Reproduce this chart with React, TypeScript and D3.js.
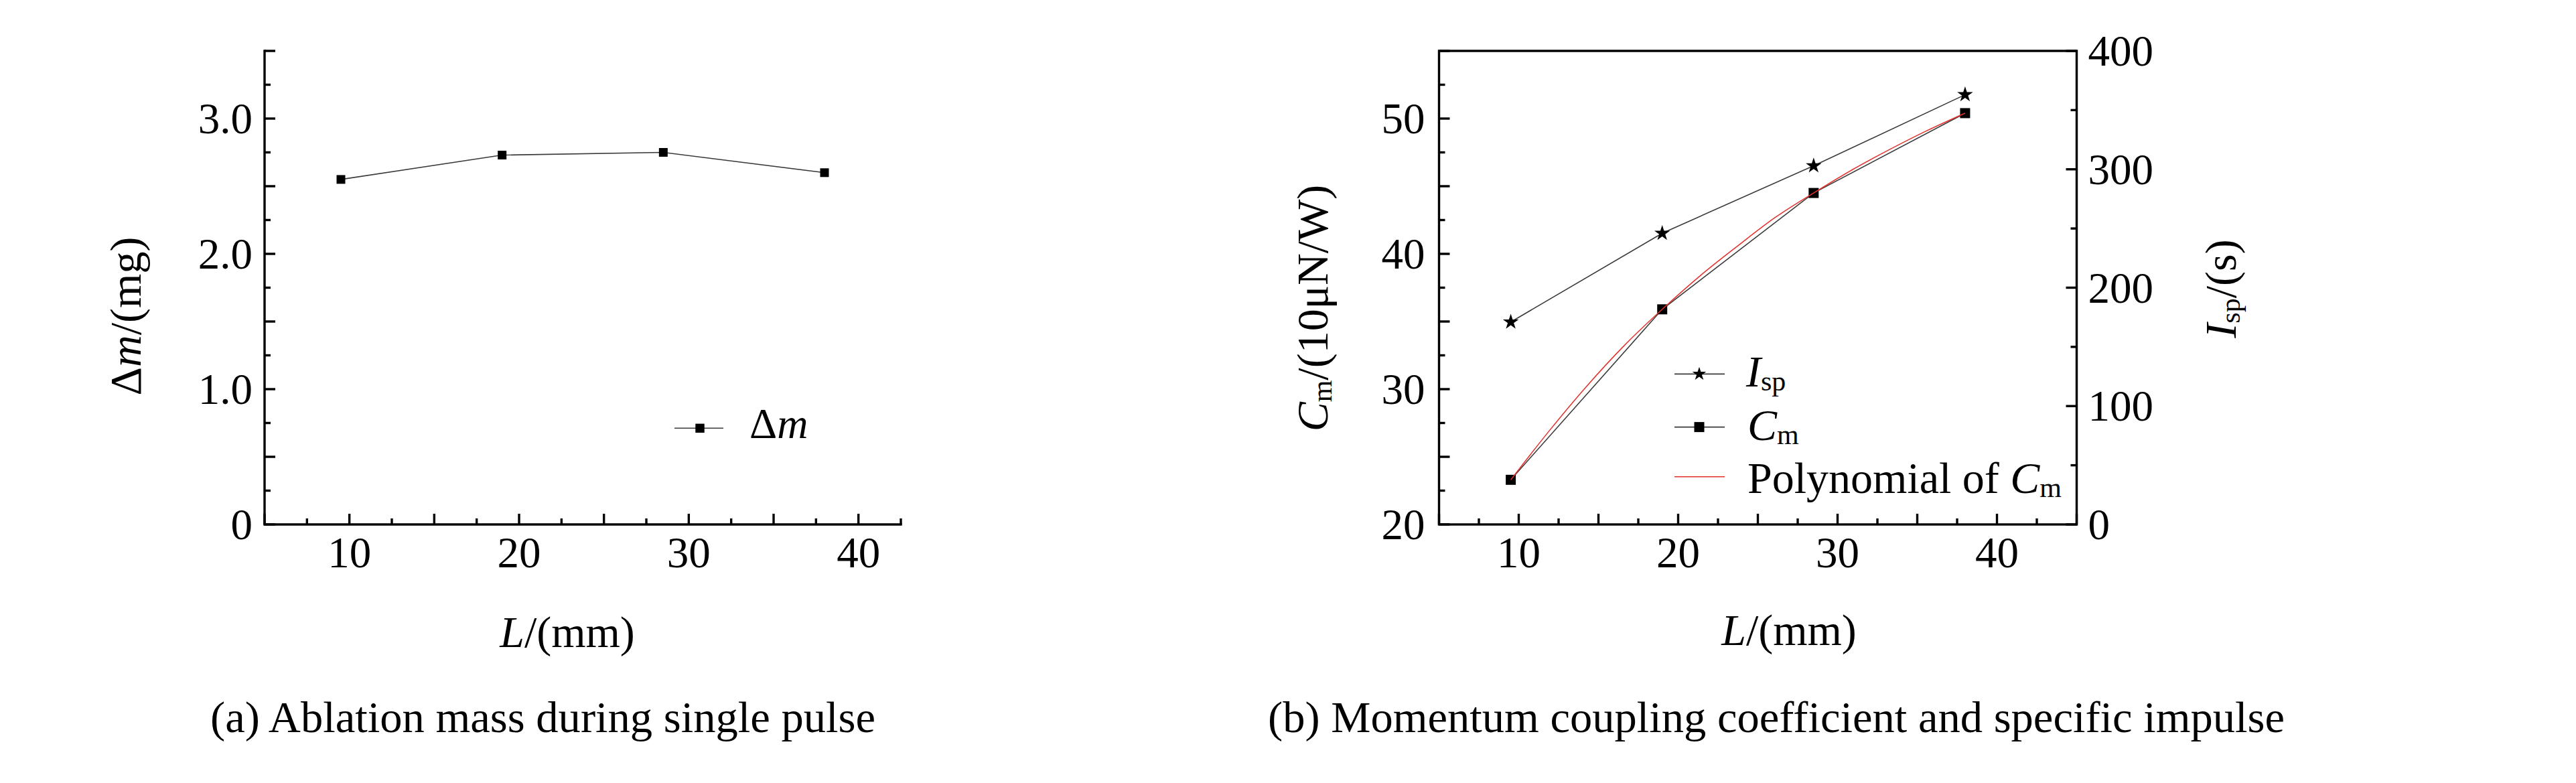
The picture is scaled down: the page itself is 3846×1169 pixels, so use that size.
import React from "react";
import * as d3 from "d3";

// ---------- data ----------
const lengthsMM = [9.5, 19, 28.5, 38];
const ablationMass = [2.55, 2.73, 2.75, 2.6];
const cmValues = [23.3, 35.9, 44.5, 50.4];
const ispValues = [171, 246, 303, 363];
const cmFitL = [9.5, 11.9, 14.25, 16.6, 19, 21.4, 23.75, 26.1, 28.5, 30.9, 33.25, 35.6, 38];
const cmFitValues = [23.3, 26.9, 30.2, 33.2, 35.9, 38.4, 40.6, 42.7, 44.5, 46.2, 47.7, 49.1, 50.4];

const xTickLabels = [10, 20, 30, 40];
const yTickLabelsA = [0, 1, 2, 3];
const yTickTextA = ["0", "1.0", "2.0", "3.0"];
const yTickLabelsBL = [20, 30, 40, 50];
const yTickLabelsBR = [0, 100, 200, 300, 400];

const captionA = "(a) Ablation mass during single pulse";
const captionB = "(b) Momentum coupling coefficient and specific impulse";

const FONT = "'Liberation Serif', 'Times New Roman', serif";
const AX = 3.4;
const LONG = 16;
const SHORT = 9;
const LINE_COLOR = "#3a3a3a";
const FIT_COLOR = "#e3302c";

function isMult(v: number, step: number) {
  return Math.abs(v / step - Math.round(v / step)) < 1e-6;
}

export default function App() {
  // panel (a)
  const xA = d3.scaleLinear().domain([5, 42.5]).range([395, 1345]);
  const yA = d3.scaleLinear().domain([0, 3.5]).range([783, 76]);
  // panel (b)
  const xB = d3.scaleLinear().domain([5, 45]).range([2148.5, 3100.5]);
  const yBL = d3.scaleLinear().domain([20, 55]).range([783, 76]);
  const yBR = d3.scaleLinear().domain([0, 400]).range([783, 76]);

  const sqA = d3.symbol(d3.symbolSquare, 169)() as string;
  const sqLegA = d3.symbol(d3.symbolSquare, 180)() as string;
  const sqB = d3.symbol(d3.symbolSquare, 225)() as string;
  const sqLegB = d3.symbol(d3.symbolSquare, 225)() as string;
  const starB = d3.symbol(d3.symbolStar, 170)() as string;
  const starLegB = d3.symbol(d3.symbolStar, 130)() as string;

  const lineA = d3
    .line<number>()
    .x((_, i) => xA(lengthsMM[i]))
    .y((d) => yA(d))(ablationMass) as string;
  const lineCm = d3
    .line<number>()
    .x((_, i) => xB(lengthsMM[i]))
    .y((d) => yBL(d))(cmValues) as string;
  const lineIsp = d3
    .line<number>()
    .x((_, i) => xB(lengthsMM[i]))
    .y((d) => yBR(d))(ispValues) as string;
  const lineFit = d3
    .line<number>()
    .curve(d3.curveMonotoneX)
    .x((_, i) => xB(cmFitL[i]))
    .y((d) => yBL(d))(cmFitValues) as string;

  const xTicksA = d3.range(5, 42.5 + 1e-9, 2.5);
  const yTicksA = d3.range(0, 3.5 + 1e-9, 0.25);
  const xTicksB = d3.range(5, 45 + 1e-9, 2.5);
  const yTicksBL = d3.range(20, 55 + 1e-9, 2.5);
  const yTicksBR = d3.range(0, 400 + 1e-9, 50);

  const [aL, aR] = xA.range();
  const [bL, bR] = xB.range();
  const bottom = 783;
  const top = 76;

  return (
    <svg
      width={3846}
      height={1169}
      style={{ position: "absolute", left: 0, top: 0, background: "#fff", display: "block" }}
      fontFamily={FONT}
    >
      <rect x={0} y={0} width={3846} height={1169} fill="#fff" />

      {/* ================= Panel (a) ================= */}
      <g stroke="#000" strokeWidth={AX}>
        {xTicksA.map((v) => (
          <line key={"xa" + v} x1={xA(v)} x2={xA(v)} y1={bottom} y2={bottom - (isMult(v, 5) ? LONG : SHORT)} />
        ))}
        {yTicksA.map((v) => (
          <line key={"ya" + v} x1={aL} x2={aL + (isMult(v, 0.5) ? LONG : SHORT)} y1={yA(v)} y2={yA(v)} />
        ))}
        <path d={`M${aL},${top}V${bottom}H${aR}`} fill="none" strokeLinecap="square" />
      </g>
      <g fontSize={65} fill="#000">
        {yTickLabelsA.map((v, i) => (
          <text key={"yla" + v} x={aL - 18} y={yA(v) + 22} textAnchor="end">
            {yTickTextA[i]}
          </text>
        ))}
        {xTickLabels.map((v) => (
          <text key={"xla" + v} x={xA(v)} y={847} textAnchor="middle">
            {v}
          </text>
        ))}
      </g>
      <path d={lineA} fill="none" stroke={LINE_COLOR} strokeWidth={1.6} />
      {ablationMass.map((v, i) => (
        <path key={"pa" + i} d={sqA} transform={`translate(${xA(lengthsMM[i])},${yA(v)})`} fill="#000" />
      ))}
      {/* legend (a) */}
      <line x1={1007} x2={1080} y1={639.3} y2={639.3} stroke={LINE_COLOR} strokeWidth={1.6} />
      <path d={sqLegA} transform="translate(1045,639.3)" fill="#000" />
      <text x={1119} y={654} fontSize={64}>
        Δ<tspan fontStyle="italic">m</tspan>
      </text>
      {/* titles (a) */}
      <text x={847} y={966} fontSize={66} textAnchor="middle">
        <tspan fontStyle="italic">L</tspan>/(mm)
      </text>
      <text transform="translate(210,472) rotate(-90)" fontSize={66} textAnchor="middle">
        Δ<tspan fontStyle="italic">m</tspan>/(mg)
      </text>
      <text x={810.5} y={1093} fontSize={65} textAnchor="middle" textLength={993} lengthAdjust="spacingAndGlyphs">
        {captionA}
      </text>

      {/* ================= Panel (b) ================= */}
      <g stroke="#000" strokeWidth={AX}>
        {xTicksB.map((v) => (
          <line key={"xb" + v} x1={xB(v)} x2={xB(v)} y1={bottom} y2={bottom - (isMult(v, 5) ? LONG : SHORT)} />
        ))}
        {yTicksBL.map((v) => (
          <line key={"ybl" + v} x1={bL} x2={bL + (isMult(v, 5) ? LONG : SHORT)} y1={yBL(v)} y2={yBL(v)} />
        ))}
        {yTicksBR.map((v) => (
          <line key={"ybr" + v} x1={bR} x2={bR - (isMult(v, 100) ? LONG : SHORT)} y1={yBR(v)} y2={yBR(v)} />
        ))}
        <rect x={bL} y={top} width={bR - bL} height={bottom - top} fill="none" />
      </g>
      <g fontSize={65} fill="#000">
        {yTickLabelsBL.map((v) => (
          <text key={"ylbl" + v} x={bL - 21} y={yBL(v) + 22} textAnchor="end">
            {v}
          </text>
        ))}
        {yTickLabelsBR.map((v) => (
          <text key={"ylbr" + v} x={bR + 17} y={yBR(v) + 22} textAnchor="start">
            {v}
          </text>
        ))}
        {xTickLabels.map((v) => (
          <text key={"xlb" + v} x={xB(v)} y={847} textAnchor="middle">
            {v}
          </text>
        ))}
      </g>
      <path d={lineIsp} fill="none" stroke={LINE_COLOR} strokeWidth={1.6} />
      <path d={lineCm} fill="none" stroke={LINE_COLOR} strokeWidth={1.6} />
      {ispValues.map((v, i) => (
        <path key={"pi" + i} d={starB} transform={`translate(${xB(lengthsMM[i])},${yBR(v)})`} fill="#000" />
      ))}
      {cmValues.map((v, i) => (
        <path key={"pc" + i} d={sqB} transform={`translate(${xB(lengthsMM[i])},${yBL(v)})`} fill="#000" />
      ))}
      <path d={lineFit} fill="none" stroke={FIT_COLOR} strokeWidth={1.5} />

      {/* legend (b) */}
      <line x1={2500} x2={2575} y1={558.4} y2={558.4} stroke={LINE_COLOR} strokeWidth={1.6} />
      <path d={starLegB} transform="translate(2537,558.4)" fill="#000" />
      <text x={2607} y={577} fontSize={66}>
        <tspan fontStyle="italic">I</tspan>
        <tspan fontSize={42} dy={6}>sp</tspan>
      </text>
      <line x1={2500} x2={2575} y1={637.6} y2={637.6} stroke={LINE_COLOR} strokeWidth={1.6} />
      <path d={sqLegB} transform="translate(2537,637.6)" fill="#000" />
      <text x={2609} y={657} fontSize={66}>
        <tspan fontStyle="italic">C</tspan>
        <tspan fontSize={42} dy={6}>m</tspan>
      </text>
      <line x1={2500} x2={2575} y1={711.8} y2={711.8} stroke={FIT_COLOR} strokeWidth={1.5} />
      <text x={2609} y={736} fontSize={66}>
        Polynomial of <tspan fontStyle="italic">C</tspan>
        <tspan fontSize={42} dy={6}>m</tspan>
      </text>

      {/* titles (b) */}
      <text x={2671} y={963} fontSize={66} textAnchor="middle">
        <tspan fontStyle="italic">L</tspan>/(mm)
      </text>
      <text transform="translate(1982,460) rotate(-90)" fontSize={66} textAnchor="middle">
        <tspan fontStyle="italic">C</tspan>
        <tspan fontSize={42} dy={6}>m</tspan>
        <tspan dy={-6}>/(10μN/W)</tspan>
      </text>
      <text transform="translate(3338,431) rotate(-90)" fontSize={66} textAnchor="middle">
        <tspan fontStyle="italic">I</tspan>
        <tspan fontSize={42} dy={6}>sp</tspan>
        <tspan dy={-6}>/(s)</tspan>
      </text>
      <text x={2652} y={1093} fontSize={65} textAnchor="middle" textLength={1518} lengthAdjust="spacingAndGlyphs">
        {captionB}
      </text>
    </svg>
  );
}
